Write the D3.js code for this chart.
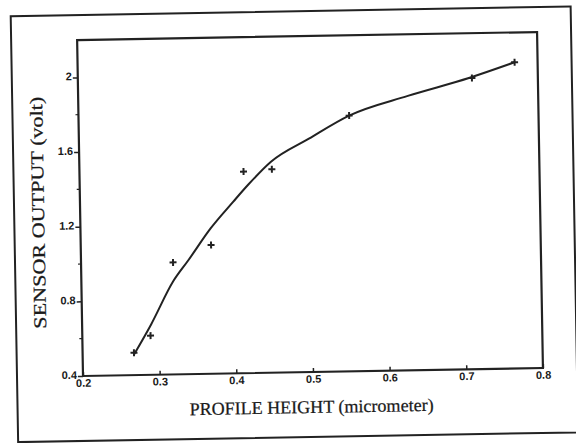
<!DOCTYPE html>
<html>
<head>
<meta charset="utf-8">
<script src="https://cdn.jsdelivr.net/npm/d3@7"></script>
<style>
  html, body { margin: 0; padding: 0; background: #fff; }
  svg { display: block; }
  .title { font-family: "Liberation Serif", "Times New Roman", serif; font-size: 18px; fill: #1a1a1a; stroke: #1a1a1a; stroke-width: 0.25px; }
</style>
</head>
<body>
<svg id="chart"></svg>
<script>
// measured points (profile height vs sensor output)
const heights = [0.267, 0.289, 0.320, 0.370, 0.414, 0.451, 0.553, 0.714, 0.770];
const outputs = [0.52, 0.61, 1.00, 1.09, 1.48, 1.49, 1.77, 1.96, 2.04];

// fitted curve
const fitHeights = [0.267, 0.290, 0.320, 0.340, 0.370, 0.400, 0.420, 0.450, 0.500, 0.553, 0.630, 0.710, 0.770];
const fitOutputs = [0.51, 0.67, 0.90, 1.01, 1.18, 1.32, 1.41, 1.53, 1.65, 1.77, 1.87, 1.96, 2.04];

const xTicks = [0.2, 0.3, 0.4, 0.5, 0.6, 0.7, 0.8];
const yTicks = [0.4, 0.8, 1.2, 1.6, 2];
const yMinor = [0.6, 1.0, 1.4, 1.8];

const width = 576, height = 443;
const margin = { left: 83, top: 40, right: 33, bottom: 67 };
const plotW = width - margin.left - margin.right;
const plotH = height - margin.top - margin.bottom;

const svg = d3.select('#chart').attr('width', width).attr('height', height);

// the scanned figure is tilted by about one degree
const root = svg.append('g')
    .attr('transform', `rotate(-1, ${margin.left}, ${margin.top + plotH})`);

// outer frame
root.append('rect')
    .attr('x', 17).attr('y', 15)
    .attr('width', 560).attr('height', 426)
    .attr('fill', 'none').attr('stroke', '#222').attr('stroke-width', 2);

const g = root.append('g').attr('transform', `translate(${margin.left},${margin.top})`);

const x = d3.scaleLinear().domain([0.2, 0.8]).range([0, plotW]);
const y = d3.scaleLinear().domain([0.4, 2.2]).range([plotH, 0]);

// plot box
g.append('rect')
    .attr('width', plotW).attr('height', plotH)
    .attr('fill', 'none').attr('stroke', '#222').attr('stroke-width', 2.2);

function styleTicks(sel) {
    sel.attr('font-family', '"Liberation Sans", Arial, sans-serif')
        .attr('font-size', 11)
        .attr('font-weight', 'bold');
    sel.select('.domain').remove();
    sel.selectAll('line').attr('stroke', '#222').attr('stroke-width', 1.5);
    sel.selectAll('text').attr('fill', '#1a1a1a');
}

// x axis
const xAxis = g.append('g')
    .attr('transform', `translate(0,${plotH})`)
    .call(d3.axisBottom(x).tickValues(xTicks).tickSize(-4).tickFormat(d3.format('.1f')))
    .call(styleTicks);
xAxis.selectAll('text').attr('y', 3).attr('dy', '0.71em');

// y axis
const yAxis = g.append('g')
    .call(d3.axisLeft(y).tickValues(yTicks).tickSize(5).tickPadding(1).tickFormat(d => d === 2 ? '2' : d3.format('.1f')(d)))
    .call(styleTicks);
yAxis.selectAll('text').attr('dy', '0.2em');

// minor y ticks
g.append('g')
    .selectAll('line')
    .data(yMinor)
    .join('line')
    .attr('x1', -3).attr('x2', 0)
    .attr('y1', d => y(d)).attr('y2', d => y(d))
    .attr('stroke', '#222').attr('stroke-width', 1.2);

// fitted curve
const fitData = fitHeights.map((h, i) => [h, fitOutputs[i]]);
g.append('path')
    .datum(fitData)
    .attr('fill', 'none')
    .attr('stroke', '#222')
    .attr('stroke-width', 2)
    .attr('d', d3.line().x(d => x(d[0])).y(d => y(d[1])).curve(d3.curveMonotoneX));

// plus markers
const points = heights.map((h, i) => ({ h, v: outputs[i] }));
const marks = g.append('g')
    .selectAll('g')
    .data(points)
    .join('g')
    .attr('transform', d => `translate(${x(d.h)},${y(d.v)})`);
marks.append('line').attr('x1', -3.5).attr('x2', 3.5).attr('stroke', '#222').attr('stroke-width', 2);
marks.append('line').attr('y1', -3.5).attr('y2', 3.5).attr('stroke', '#222').attr('stroke-width', 2);

// axis titles
root.append('text')
    .attr('class', 'title')
    .attr('x', margin.left + plotW / 2 - 2)
    .attr('y', margin.top + plotH + 41)
    .attr('text-anchor', 'middle')
    .attr('textLength', 244)
    .attr('lengthAdjust', 'spacingAndGlyphs')
    .text('PROFILE HEIGHT (micrometer)');

root.append('text')
    .attr('class', 'title')
    .attr('transform', `translate(47,${margin.top + plotH / 2 + 4}) rotate(-90)`)
    .attr('text-anchor', 'middle')
    .attr('textLength', 232)
    .attr('lengthAdjust', 'spacingAndGlyphs')
    .text('SENSOR OUTPUT (volt)');
</script>
</body>
</html>
